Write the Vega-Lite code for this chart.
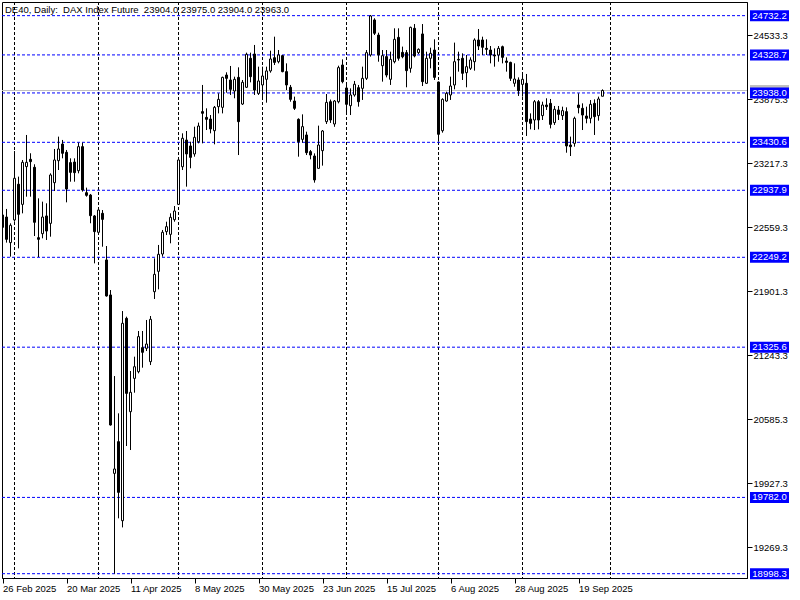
{
  "$schema": "https://vega.github.io/schema/vega-lite/v6.json",
  "width": 745,
  "height": 576,
  "autosize": "none",
  "padding": {"left": 2, "top": 2, "right": 53, "bottom": 22},
  "background": "white",
  "title": {
    "text": "DE40, Daily:\u00a0 DAX Index Future\u00a0 23904.0 23975.0 23904.0 23963.0",
    "anchor": "start", "frame": "group", "orient": "top", "offset": -12, "baseline": "top", "dy": 0,
    "fontSize": 9.5, "font": "Liberation Sans", "fontWeight": "normal", "color": "black", "dx": 3
  },
  "config": {
    "view": {"stroke": "black", "strokeWidth": 1},
    "axis": {"labelFont": "Liberation Sans", "labelFontSize": 9.5, "labelColor": "black", "domainColor": "black", "tickColor": "black", "grid": false, "title": null, "labelOverlap": false, "labelFlush": false}
  },
  "datasets": {
    "bars": [
      {"i":0,"d":"2025-02-26","o":22684,"h":22701,"l":22530,"c":22557},
      {"i":1,"d":"2025-02-27","o":22663,"h":22746,"l":22400,"c":22434},
      {"i":2,"d":"2025-02-28","o":22400,"h":22598,"l":22256,"c":22578},
      {"i":3,"d":"2025-03-03","o":22633,"h":23341,"l":22615,"c":23061},
      {"i":4,"d":"2025-03-04","o":23000,"h":23078,"l":22341,"c":22691},
      {"i":5,"d":"2025-03-05","o":22793,"h":23249,"l":22701,"c":23225},
      {"i":6,"d":"2025-03-06","o":23181,"h":23506,"l":22872,"c":23225},
      {"i":7,"d":"2025-03-07","o":23256,"h":23318,"l":22872,"c":23232},
      {"i":8,"d":"2025-03-10","o":23174,"h":23205,"l":22468,"c":22609},
      {"i":9,"d":"2025-03-11","o":22451,"h":22855,"l":22252,"c":22434},
      {"i":10,"d":"2025-03-12","o":22492,"h":22821,"l":22444,"c":22663},
      {"i":11,"d":"2025-03-13","o":22674,"h":22804,"l":22427,"c":22519},
      {"i":12,"d":"2025-03-14","o":22598,"h":23112,"l":22461,"c":23095},
      {"i":13,"d":"2025-03-17","o":23016,"h":23362,"l":22930,"c":23249},
      {"i":14,"d":"2025-03-18","o":23242,"h":23489,"l":23146,"c":23362},
      {"i":15,"d":"2025-03-19","o":23413,"h":23455,"l":23266,"c":23318},
      {"i":16,"d":"2025-03-20","o":23328,"h":23352,"l":22814,"c":22951},
      {"i":17,"d":"2025-03-21","o":23222,"h":23266,"l":23026,"c":23122},
      {"i":18,"d":"2025-03-24","o":23228,"h":23266,"l":23026,"c":23119},
      {"i":19,"d":"2025-03-25","o":23139,"h":23427,"l":23112,"c":23386},
      {"i":20,"d":"2025-03-26","o":23386,"h":23427,"l":22924,"c":22941},
      {"i":21,"d":"2025-03-27","o":22913,"h":22965,"l":22872,"c":22886},
      {"i":22,"d":"2025-03-28","o":22889,"h":22900,"l":22599,"c":22677},
      {"i":23,"d":"2025-03-31","o":22674,"h":22684,"l":22187,"c":22513},
      {"i":24,"d":"2025-04-01","o":22506,"h":22742,"l":22496,"c":22735},
      {"i":25,"d":"2025-04-02","o":22701,"h":22735,"l":22358,"c":22639},
      {"i":26,"d":"2025-04-03","o":22222,"h":22365,"l":21845,"c":21852},
      {"i":27,"d":"2025-04-04","o":21862,"h":21913,"l":20520,"c":20526},
      {"i":28,"d":"2025-04-07","o":20029,"h":21029,"l":18998,"c":20074},
      {"i":29,"d":"2025-04-08","o":20355,"h":20646,"l":19567,"c":19834},
      {"i":30,"d":"2025-04-09","o":19543,"h":21697,"l":19474,"c":21571},
      {"i":31,"d":"2025-04-10","o":21622,"h":21639,"l":20310,"c":20851},
      {"i":32,"d":"2025-04-11","o":20663,"h":21081,"l":20269,"c":20862},
      {"i":33,"d":"2025-04-14","o":21005,"h":21228,"l":20858,"c":21125},
      {"i":34,"d":"2025-04-15","o":21074,"h":21492,"l":21057,"c":21434},
      {"i":35,"d":"2025-04-16","o":21321,"h":21492,"l":21115,"c":21273},
      {"i":36,"d":"2025-04-17","o":21314,"h":21605,"l":21286,"c":21358},
      {"i":37,"d":"2025-04-22","o":21177,"h":21646,"l":21142,"c":21612},
      {"i":38,"d":"2025-04-23","o":21896,"h":22238,"l":21821,"c":22074},
      {"i":39,"d":"2025-04-24","o":22105,"h":22376,"l":21920,"c":22280},
      {"i":40,"d":"2025-04-25","o":22283,"h":22530,"l":22256,"c":22506},
      {"i":41,"d":"2025-04-28","o":22513,"h":22615,"l":22478,"c":22564},
      {"i":42,"d":"2025-04-29","o":22485,"h":22701,"l":22393,"c":22660},
      {"i":43,"d":"2025-04-30","o":22636,"h":22776,"l":22615,"c":22725},
      {"i":44,"d":"2025-05-02","o":22793,"h":23259,"l":22787,"c":23249},
      {"i":45,"d":"2025-05-05","o":23180,"h":23523,"l":23146,"c":23472},
      {"i":46,"d":"2025-05-06","o":23454,"h":23547,"l":22975,"c":23311},
      {"i":47,"d":"2025-05-07","o":23393,"h":23437,"l":23164,"c":23276},
      {"i":48,"d":"2025-05-08","o":23311,"h":23591,"l":23283,"c":23482},
      {"i":49,"d":"2025-05-09","o":23437,"h":23633,"l":23420,"c":23598},
      {"i":50,"d":"2025-05-12","o":23746,"h":24020,"l":23420,"c":23729},
      {"i":51,"d":"2025-05-13","o":23687,"h":23780,"l":23557,"c":23667},
      {"i":52,"d":"2025-05-14","o":23670,"h":23711,"l":23523,"c":23568},
      {"i":53,"d":"2025-05-15","o":23550,"h":23804,"l":23410,"c":23790},
      {"i":54,"d":"2025-05-16","o":23797,"h":23934,"l":23728,"c":23872},
      {"i":55,"d":"2025-05-19","o":23790,"h":24105,"l":23728,"c":24098},
      {"i":56,"d":"2025-05-20","o":24122,"h":24150,"l":23941,"c":24088},
      {"i":57,"d":"2025-05-21","o":24071,"h":24215,"l":23917,"c":23975},
      {"i":58,"d":"2025-05-22","o":23958,"h":24105,"l":23883,"c":24078},
      {"i":59,"d":"2025-05-23","o":24098,"h":24201,"l":23300,"c":23643},
      {"i":60,"d":"2025-05-26","o":23824,"h":24071,"l":23814,"c":24047},
      {"i":61,"d":"2025-05-27","o":23996,"h":24352,"l":23990,"c":24335},
      {"i":62,"d":"2025-05-28","o":24294,"h":24352,"l":24047,"c":24105},
      {"i":63,"d":"2025-05-29","o":24338,"h":24431,"l":23917,"c":23968},
      {"i":64,"d":"2025-05-30","o":23934,"h":24208,"l":23917,"c":24061},
      {"i":65,"d":"2025-06-02","o":24020,"h":24208,"l":23865,"c":24112},
      {"i":66,"d":"2025-06-03","o":24078,"h":24208,"l":23838,"c":24164},
      {"i":67,"d":"2025-06-04","o":24164,"h":24372,"l":24146,"c":24287},
      {"i":68,"d":"2025-06-05","o":24300,"h":24516,"l":24225,"c":24252},
      {"i":69,"d":"2025-06-06","o":24259,"h":24379,"l":24242,"c":24328},
      {"i":70,"d":"2025-06-09","o":24321,"h":24328,"l":24150,"c":24157},
      {"i":71,"d":"2025-06-10","o":24157,"h":24242,"l":23968,"c":24020},
      {"i":72,"d":"2025-06-11","o":23996,"h":24020,"l":23848,"c":23872},
      {"i":73,"d":"2025-06-12","o":23855,"h":23900,"l":23763,"c":23780},
      {"i":74,"d":"2025-06-13","o":23667,"h":23677,"l":23283,"c":23437},
      {"i":75,"d":"2025-06-16","o":23461,"h":23718,"l":23427,"c":23592},
      {"i":76,"d":"2025-06-17","o":23506,"h":23540,"l":23300,"c":23324},
      {"i":77,"d":"2025-06-18","o":23335,"h":23352,"l":23256,"c":23300},
      {"i":78,"d":"2025-06-19","o":23290,"h":23317,"l":23016,"c":23044},
      {"i":79,"d":"2025-06-20","o":23163,"h":23602,"l":23163,"c":23403},
      {"i":80,"d":"2025-06-23","o":23345,"h":23557,"l":23191,"c":23547},
      {"i":81,"d":"2025-06-24","o":23643,"h":23927,"l":23619,"c":23841},
      {"i":82,"d":"2025-06-25","o":23848,"h":23870,"l":23630,"c":23660},
      {"i":83,"d":"2025-06-26","o":23619,"h":23865,"l":23590,"c":23855},
      {"i":84,"d":"2025-06-27","o":23848,"h":24218,"l":23831,"c":24198},
      {"i":85,"d":"2025-06-30","o":24225,"h":24283,"l":24037,"c":24054},
      {"i":86,"d":"2025-07-01","o":23989,"h":24020,"l":23728,"c":23821},
      {"i":87,"d":"2025-07-02","o":23807,"h":23985,"l":23711,"c":23917},
      {"i":88,"d":"2025-07-03","o":23917,"h":24061,"l":23900,"c":24027},
      {"i":89,"d":"2025-07-04","o":23992,"h":24020,"l":23797,"c":23848},
      {"i":90,"d":"2025-07-07","o":23985,"h":24208,"l":23866,"c":24088},
      {"i":91,"d":"2025-07-08","o":24088,"h":24379,"l":24071,"c":24352},
      {"i":92,"d":"2025-07-09","o":24328,"h":24739,"l":24311,"c":24729},
      {"i":93,"d":"2025-07-10","o":24688,"h":24705,"l":24533,"c":24551},
      {"i":94,"d":"2025-07-11","o":24533,"h":24557,"l":24259,"c":24328},
      {"i":95,"d":"2025-07-14","o":24218,"h":24379,"l":24054,"c":24321},
      {"i":96,"d":"2025-07-15","o":24311,"h":24379,"l":24098,"c":24122},
      {"i":97,"d":"2025-07-16","o":24078,"h":24362,"l":24020,"c":24283},
      {"i":98,"d":"2025-07-17","o":24259,"h":24602,"l":24242,"c":24489},
      {"i":99,"d":"2025-07-18","o":24509,"h":24602,"l":24270,"c":24294},
      {"i":100,"d":"2025-07-21","o":24355,"h":24414,"l":24294,"c":24310},
      {"i":101,"d":"2025-07-22","o":24352,"h":24379,"l":23996,"c":24167},
      {"i":102,"d":"2025-07-23","o":24191,"h":24619,"l":24146,"c":24612},
      {"i":103,"d":"2025-07-24","o":24602,"h":24646,"l":24304,"c":24318},
      {"i":104,"d":"2025-07-25","o":24352,"h":24396,"l":24338,"c":24386},
      {"i":105,"d":"2025-07-28","o":24544,"h":24646,"l":24009,"c":24054},
      {"i":106,"d":"2025-07-29","o":24037,"h":24362,"l":24030,"c":24294},
      {"i":107,"d":"2025-07-30","o":24294,"h":24403,"l":24191,"c":24345},
      {"i":108,"d":"2025-07-31","o":24379,"h":24489,"l":24071,"c":24098},
      {"i":109,"d":"2025-08-01","o":24050,"h":24055,"l":23437,"c":23513},
      {"i":110,"d":"2025-08-04","o":23550,"h":23883,"l":23530,"c":23872},
      {"i":111,"d":"2025-08-05","o":23855,"h":23951,"l":23848,"c":23934},
      {"i":112,"d":"2025-08-06","o":23917,"h":24105,"l":23866,"c":24009},
      {"i":113,"d":"2025-08-07","o":24020,"h":24455,"l":23975,"c":24259},
      {"i":114,"d":"2025-08-08","o":24283,"h":24362,"l":24157,"c":24276},
      {"i":115,"d":"2025-08-11","o":24294,"h":24345,"l":24071,"c":24140},
      {"i":116,"d":"2025-08-12","o":24146,"h":24328,"l":23996,"c":24208},
      {"i":117,"d":"2025-08-13","o":24191,"h":24304,"l":24174,"c":24277},
      {"i":118,"d":"2025-08-14","o":24259,"h":24499,"l":24167,"c":24482},
      {"i":119,"d":"2025-08-15","o":24482,"h":24595,"l":24379,"c":24420},
      {"i":120,"d":"2025-08-18","o":24482,"h":24516,"l":24328,"c":24407},
      {"i":121,"d":"2025-08-19","o":24396,"h":24489,"l":24328,"c":24386},
      {"i":122,"d":"2025-08-20","o":24379,"h":24420,"l":24242,"c":24328},
      {"i":123,"d":"2025-08-21","o":24328,"h":24396,"l":24208,"c":24318},
      {"i":124,"d":"2025-08-22","o":24328,"h":24420,"l":24259,"c":24396},
      {"i":125,"d":"2025-08-25","o":24413,"h":24424,"l":24242,"c":24304},
      {"i":126,"d":"2025-08-26","o":24266,"h":24304,"l":24157,"c":24252},
      {"i":127,"d":"2025-08-27","o":24252,"h":24259,"l":24061,"c":24088},
      {"i":128,"d":"2025-08-28","o":24037,"h":24242,"l":24002,"c":24081},
      {"i":129,"d":"2025-08-29","o":24071,"h":24098,"l":23907,"c":23961},
      {"i":130,"d":"2025-09-01","o":24026,"h":24122,"l":23900,"c":24078},
      {"i":131,"d":"2025-09-02","o":24037,"h":24133,"l":23496,"c":23643},
      {"i":132,"d":"2025-09-03","o":23670,"h":23728,"l":23564,"c":23626},
      {"i":133,"d":"2025-09-04","o":23660,"h":23865,"l":23557,"c":23848},
      {"i":134,"d":"2025-09-05","o":23848,"h":23865,"l":23564,"c":23660},
      {"i":135,"d":"2025-09-08","o":23705,"h":23848,"l":23660,"c":23814},
      {"i":136,"d":"2025-09-09","o":23814,"h":23883,"l":23763,"c":23797},
      {"i":137,"d":"2025-09-10","o":23831,"h":23876,"l":23574,"c":23615},
      {"i":138,"d":"2025-09-11","o":23633,"h":23804,"l":23609,"c":23770},
      {"i":139,"d":"2025-09-12","o":23763,"h":23804,"l":23660,"c":23718},
      {"i":140,"d":"2025-09-15","o":23705,"h":23797,"l":23660,"c":23756},
      {"i":141,"d":"2025-09-16","o":23746,"h":23790,"l":23324,"c":23393},
      {"i":142,"d":"2025-09-17","o":23403,"h":23489,"l":23290,"c":23386},
      {"i":143,"d":"2025-09-18","o":23420,"h":23694,"l":23386,"c":23677},
      {"i":144,"d":"2025-09-19","o":23814,"h":23934,"l":23728,"c":23787},
      {"i":145,"d":"2025-09-22","o":23780,"h":23831,"l":23557,"c":23711},
      {"i":146,"d":"2025-09-23","o":23701,"h":23797,"l":23626,"c":23677},
      {"i":147,"d":"2025-09-24","o":23677,"h":23865,"l":23626,"c":23821},
      {"i":148,"d":"2025-09-25","o":23831,"h":23872,"l":23506,"c":23694},
      {"i":149,"d":"2025-09-26","o":23705,"h":23900,"l":23653,"c":23876},
      {"i":150,"d":"2025-09-29","o":23904,"h":23975,"l":23904,"c":23963}
    ],
    "months": [{"i":3},{"i":24},{"i":44},{"i":65},{"i":86},{"i":109},{"i":130},{"i":152}],
    "levels": [{"v":24732.2},{"v":24328.7},{"v":23938.0},{"v":23430.6},{"v":22937.9},{"v":22249.2},{"v":21325.6},{"v":19782.0},{"v":18998.3}],
    "bid": [{"v":23963.0}]
  },
  "layer": [
    {
      "data": {"name": "months"},
      "mark": {"type": "rule", "color": "black", "strokeWidth": 1, "strokeDash": [3, 2], "clip": true},
      "encoding": {
        "x": {
          "field": "i", "type": "quantitative",
          "scale": {"domain": [-0.125, 186.125], "nice": false, "zero": false, "padding": 0},
          "axis": {
            "values": [0,16,32,48,64,80,96,112,128,144],
            "labelExpr": "['26 Feb 2025','20 Mar 2025','11 Apr 2025','8 May 2025','30 May 2025','23 Jun 2025','15 Jul 2025','6 Aug 2025','28 Aug 2025','19 Sep 2025'][round(datum.value/16)]",
            "labelAlign": "left", "labelBaseline": "top", "labelPadding": 0, "tickSize": 5, "labelOverlap": false, "labelFlush": false
          }
        }
      }
    },
    {
      "data": {"name": "levels"},
      "mark": {"type": "rule", "color": "#0000ff", "strokeWidth": 1, "strokeDash": [3, 2]},
      "encoding": {
        "x": {"datum": -0.125, "type": "quantitative"},
        "x2": {"datum": 186.125},
        "y": {
          "field": "v", "type": "quantitative",
          "scale": {"domain": [18954, 24872.4], "nice": false, "zero": false, "padding": 0},
          "axis": {
            "orient": "right",
            "values": [24862.3,24533.3,24204.3,23875.3,23546.3,23217.3,22888.3,22559.3,22230.3,21901.3,21572.3,21243.3,20914.3,20585.3,20256.3,19927.3,19598.3,19269.3],
            "format": ".1f", "tickSize": 5, "labelPadding": 1, "labelBaseline": "middle", "labelOverlap": false, "labelFlush": false
          }
        }
      }
    },
    {
      "data": {"name": "bid"},
      "mark": {"type": "rule", "color": "#c0c0c0", "strokeWidth": 1},
      "encoding": {
        "x": {"datum": -0.125, "type": "quantitative"},
        "x2": {"datum": 186.125},
        "y": {"field": "v", "type": "quantitative"}
      }
    },
    {
      "data": {"name": "bars"},
      "mark": {"type": "rule", "color": "black", "strokeWidth": 1, "clip": true},
      "encoding": {
        "x": {"field": "i", "type": "quantitative"},
        "y": {"field": "l", "type": "quantitative"},
        "y2": {"field": "h"}
      }
    },
    {
      "data": {"name": "bars"},
      "mark": {"type": "bar", "width": 2, "stroke": "black", "strokeWidth": 1, "clip": true},
      "encoding": {
        "x": {"field": "i", "type": "quantitative"},
        "y": {"field": "o", "type": "quantitative"},
        "y2": {"field": "c"},
        "fill": {"condition": {"test": "datum.o > datum.c", "value": "black"}, "value": "white"}
      }
    },
    {
      "data": {"name": "bid"},
      "mark": {"type": "rule", "color": "#c0c0c0", "strokeWidth": 11, "strokeCap": "butt"},
      "encoding": {
        "x": {"datum": 186.875, "type": "quantitative"},
        "x2": {"datum": 196.625},
        "y": {"field": "v", "type": "quantitative"}
      }
    },
    {
      "data": {"name": "levels"},
      "mark": {"type": "rule", "color": "#0000ff", "strokeWidth": 11, "strokeCap": "butt"},
      "encoding": {
        "x": {"datum": 186.875, "type": "quantitative"},
        "x2": {"datum": 196.625},
        "y": {"field": "v", "type": "quantitative"}
      }
    },
    {
      "data": {"name": "levels"},
      "mark": {"type": "text", "color": "white", "font": "Liberation Sans", "fontSize": 9.5, "align": "center", "baseline": "middle"},
      "encoding": {
        "x": {"datum": 191.75, "type": "quantitative"},
        "y": {"field": "v", "type": "quantitative"},
        "text": {"field": "v", "type": "quantitative", "format": ".1f"}
      }
    }
  ]
}
